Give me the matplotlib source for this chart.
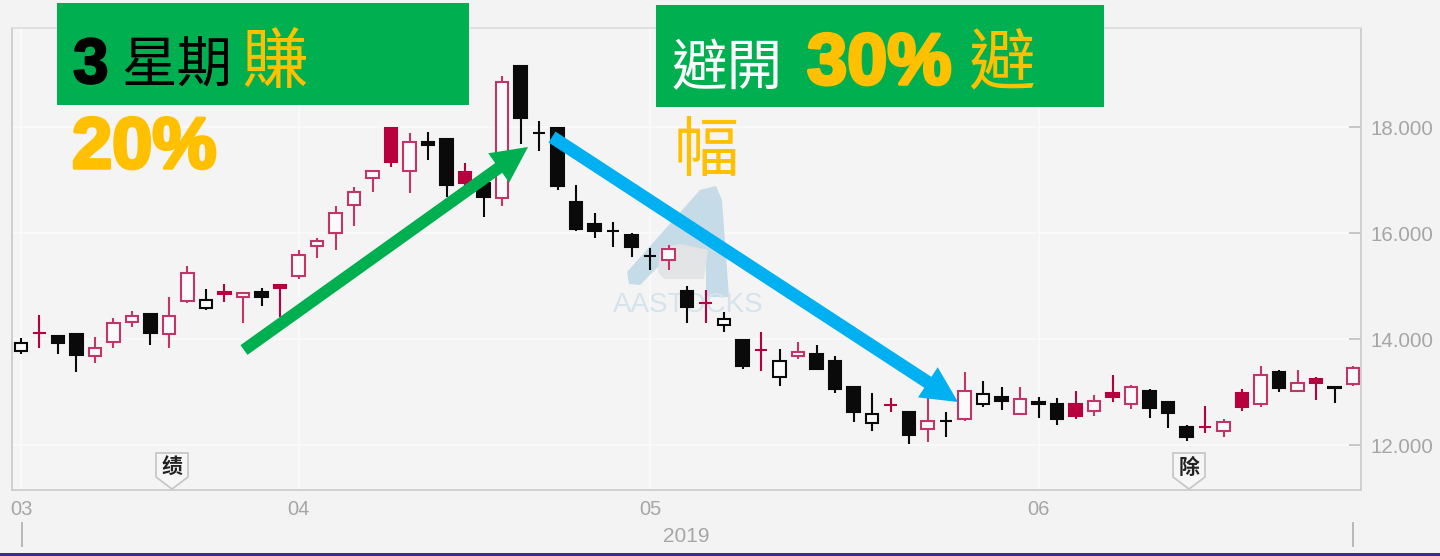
import matplotlib
matplotlib.use('Agg')
import matplotlib.pyplot as plt
from matplotlib.patches import Polygon, Rectangle, FancyArrow
import matplotlib.patheffects as pe

plt.rcParams['font.family'] = ['Liberation Sans', 'Noto Sans CJK TC', 'DejaVu Sans']

# h = hollow black, f = filled black, m = hollow magenta, r = filled magenta
kinds = ['h','r','f','f','m','m','m','f','m','m','h','r','m','f','r','m','m','m','m','m',
         'r','m','f','f','r','f','m','f','f','f','f','f','f','f','f','m','f','r','h','f',
         'r','h','m','f','f','f','h','r','f','m','f','m','h','f','m','f','f','r','m','r',
         'm','f','f','f','r','m','r','m','f','m','r','f','m']
high = [14.02,14.45,14.08,14.09,14.04,14.40,14.53,14.47,14.79,15.38,14.94,15.04,14.87,14.96,15.02,15.68,15.91,16.51,16.87,17.17,
        17.98,17.89,17.91,17.79,17.32,16.94,18.96,19.15,18.11,17.98,16.91,16.38,16.21,16.00,15.72,15.77,15.00,14.92,14.51,13.98,
        14.13,13.81,13.94,13.89,13.68,13.09,12.98,12.89,12.62,12.89,12.62,13.38,13.21,13.09,13.09,12.91,12.89,13.02,12.94,13.32,
        13.13,13.06,12.81,12.38,12.74,12.49,13.06,13.49,13.42,13.42,13.28,13.09,13.49]
top = [13.92,14.11,14.06,14.09,13.83,14.30,14.43,14.47,14.43,15.25,14.74,14.89,14.87,14.89,15.02,15.58,15.85,16.38,16.77,17.17,
       17.98,17.72,17.72,17.77,17.15,16.94,18.85,19.15,17.89,17.98,16.58,16.17,16.04,15.96,15.57,15.70,14.91,14.68,14.38,13.98,
       13.79,13.58,13.75,13.72,13.58,13.09,12.58,12.75,12.62,12.45,12.45,13.02,12.96,12.91,12.87,12.81,12.77,12.77,12.83,12.98,
       13.09,13.02,12.81,12.34,12.34,12.43,12.98,13.32,13.38,13.17,13.25,13.09,13.45]
bottom = [13.77,14.11,13.92,13.70,13.68,13.94,14.32,14.11,14.09,14.72,14.58,14.85,14.79,14.79,14.96,15.19,15.75,16.00,16.53,17.04,
          17.34,17.17,17.66,16.91,16.94,16.68,16.66,18.17,17.89,16.89,16.08,16.04,16.04,15.74,15.57,15.49,14.60,14.68,14.26,13.49,
          13.79,13.28,13.68,13.43,13.06,12.62,12.42,12.75,12.19,12.30,12.45,12.49,12.77,12.83,12.58,12.77,12.49,12.55,12.64,12.91,
          12.77,12.70,12.60,12.15,12.34,12.26,12.72,12.77,13.08,13.02,13.17,13.08,13.15]
low = [13.72,13.83,13.72,13.38,13.55,13.83,14.23,13.89,13.83,14.68,14.55,14.70,14.30,14.62,14.42,15.13,15.53,15.68,16.13,16.77,
       17.25,16.75,17.38,16.68,16.87,16.30,16.51,17.68,17.55,16.81,16.04,15.91,15.74,15.55,15.30,15.30,14.30,14.30,14.13,13.43,
       13.40,13.11,13.62,13.43,12.98,12.43,12.26,12.62,12.02,12.06,12.15,12.45,12.72,12.66,12.58,12.51,12.38,12.49,12.55,12.81,
       12.68,12.51,12.32,12.08,12.23,12.15,12.64,12.72,13.00,13.02,12.85,12.79,13.11]
y_ticks = [12, 14, 16, 18]
month_pos = [0, 15, 34, 55]
month_labels = ['03', '04', '05', '06']

BG = '#f3f3f3'
BLACK = '#0a0a0a'
MAG = '#b9003f'
MAG_LINE = '#c23568'
GREY = '#a6a6a6'
GREEN = '#00b050'
GOLD = '#ffc000'
BLUE = '#00b0f0'

edge = {'h': BLACK, 'f': BLACK, 'm': MAG_LINE, 'r': MAG}
face = {'h': '#fafafa', 'f': BLACK, 'm': '#fafafa', 'r': MAG}

fig = plt.figure(figsize=(14.4, 5.56), dpi=100, facecolor=BG)
ax = fig.add_axes([12/1440, 1 - 490/556, 1349/1440, 462/556], facecolor='#f4f4f4', zorder=1)

# pixel overlay for the annotations pasted on top of the chart
over = fig.add_axes([0, 0, 1, 1], zorder=5)
over.set_xlim(0, 1440)
over.set_ylim(556, 0)
over.axis('off')
over.patch.set_alpha(0)

# candles
x = list(range(len(high)))
ax.vlines(x, low, high, colors=[edge[k] for k in kinds], linewidth=1.5, zorder=3)
ax.bar(x, [t - b for t, b in zip(top, bottom)], bottom=bottom, width=0.68,
       color=[face[k] for k in kinds], edgecolor=[edge[k] for k in kinds],
       linewidth=1.5, zorder=4)

ax.set_xlim(-0.486, 72.43)
ax.set_ylim(11.151, 19.868)
ax.yaxis.tick_right()
ax.set_yticks(y_ticks)
ax.set_yticklabels(['%.3f' % v for v in y_ticks])
ax.set_xticks(month_pos)
ax.set_xticklabels(month_labels)
ax.tick_params(axis='y', direction='in', length=9, width=1.2, color='#bdbdbd',
               labelcolor=GREY, labelsize=14.8, pad=7)
ax.tick_params(axis='x', length=0, labelcolor=GREY, labelsize=14.5, pad=7)
ax.set_xlabel('2019', color=GREY, fontsize=15, labelpad=6)
ax.grid(True, color='#fbfbfb', linewidth=1.2, zorder=0)
ax.set_axisbelow(True)
for s in ax.spines.values():
    s.set_color('#cdcdcd')
    s.set_linewidth(1.3)
ax.spines['top'].set_color('#dedede')

# watermark, below the candles
wm_blue = Polygon([(627, 272), (700, 190), (716, 186), (722, 200), (729, 297), (706, 297),
                   (706, 262), (658, 267), (640, 285), (629, 284)],
                  closed=True, facecolor='#c6dbe8', edgecolor='none',
                  transform=over.transData, zorder=1)
wm_grey = Polygon([(660, 248), (680, 244), (708, 250), (704, 279), (664, 279), (658, 272)],
                  closed=True, facecolor='#e3e4e6', edgecolor='none',
                  transform=over.transData, zorder=1.1)
ax.add_patch(wm_blue)
ax.add_patch(wm_grey)
ax.text(688, 305, 'AASTOCKS', transform=over.transData, color='#d5e3ec', fontsize=20,
        ha='center', va='center', zorder=1.2)

# month end marks and the bottom rule
over.vlines([22, 1353], 522, 547, colors='#b8b8b8', linewidth=1.4)
over.add_patch(Rectangle((0, 553), 1440, 3, facecolor='#3b2b8c', edgecolor='none'))

# event flags
for left, tag in [(156, '绩'), (1173, '除')]:
    over.add_patch(Polygon([(left, 453), (left + 32, 453), (left + 32, 477), (left + 16, 489), (left, 477)],
                           closed=True, facecolor='#f6f6f6', edgecolor='#c8c8c8', linewidth=1.3))
    over.text(left + 16, 467, tag, color='#222222', fontsize=15, fontweight='bold', ha='center', va='center',
              family=['Noto Sans CJK SC', 'DejaVu Sans'])

# title boxes
over.add_patch(Rectangle((57, 3), 412, 102, facecolor=GREEN, edgecolor='none'))
over.add_patch(Rectangle((656, 5), 448, 102, facecolor=GREEN, edgecolor='none'))

heavy_k = [pe.withStroke(linewidth=1.6, foreground='black')]
heavy_g = [pe.withStroke(linewidth=2.5, foreground=GOLD)]
cjk = ['Noto Sans CJK TC', 'DejaVu Sans']

over.text(73, 83, '3', color='black', fontsize=46, fontweight='bold', va='baseline', path_effects=heavy_k)
over.text(121, 83, '星期', color='black', fontsize=40, va='baseline', family=cjk)
over.text(241, 83, '賺', color=GOLD, fontsize=48, va='baseline', family=cjk)
over.text(72, 168, '20%', color=GOLD, fontsize=52, fontweight='bold', va='baseline', path_effects=heavy_g)

over.text(672, 85, '避開', color='white', fontsize=40, va='baseline', family=cjk)
over.text(807, 84, '30%', color=GOLD, fontsize=52, fontweight='bold', va='baseline', path_effects=heavy_g)
over.text(968, 83, '避', color=GOLD, fontsize=48, va='baseline', family=cjk)
over.text(674, 171, '幅', color=GOLD, fontsize=47, va='baseline', family=cjk)

# arrows
over.add_patch(FancyArrow(244, 350, 528 - 244, 147 - 350, width=12, head_width=36, head_length=36,
                          length_includes_head=True, facecolor=GREEN, edgecolor='none'))
over.add_patch(FancyArrow(552, 137, 958 - 552, 402 - 137, width=13, head_width=36, head_length=36,
                          length_includes_head=True, facecolor=BLUE, edgecolor='none'))

fig.savefig('out.png', dpi=100, facecolor=BG)
